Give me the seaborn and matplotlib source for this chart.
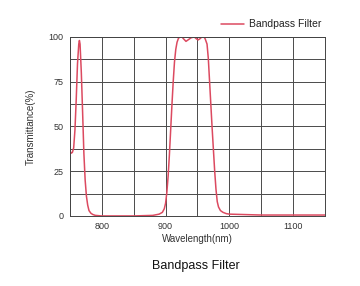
import matplotlib
matplotlib.use("Agg")
import matplotlib.pyplot as plt
import seaborn as sns
import pandas as pd
import numpy as np

wavelength = [750, 752, 754, 756, 758, 760, 762, 764, 765, 766, 768, 770, 772, 774, 776, 778,
              780, 783, 786, 790, 800, 850, 880, 890, 895, 898, 900, 902, 904, 906, 908, 910,
              912, 914, 916, 918, 920, 922, 925, 928, 932, 936, 940, 945, 948, 951, 954, 957,
              960, 962, 965, 967, 969, 971, 973, 975, 977, 979, 981, 983, 986, 990, 995, 1000,
              1050, 1100, 1150]
transmittance = [36.5, 35, 35.5, 38, 48, 65, 85, 96, 98, 96, 80, 58, 35, 20, 11, 6,
                 3, 1.5, 0.8, 0.3, 0, 0, 0.3, 1, 2, 4, 7, 13, 22, 34, 48, 62,
                 75, 86, 93, 97, 99, 100, 100.3, 99, 97.5, 98.5, 99.5, 100, 99, 98.3, 99, 100,
                 100, 99, 96, 88, 75, 62, 49, 37, 25, 15, 8, 5, 3, 2, 1.3, 1,
                 0.5, 0.5, 0.5]
series_name = "Bandpass Filter"
x_ticks = [800, 900, 1000, 1100]
y_ticks = [0, 25, 50, 75, 100]

sns.set_style("white")
plt.rcParams['font.family'] = ['Liberation Sans', 'DejaVu Sans']

df = pd.DataFrame({"Wavelength": wavelength, "T": transmittance, "series": series_name})

fig = plt.figure(figsize=(3.6, 2.86), dpi=100)
ax = fig.add_axes([0.194, 0.245, 0.709, 0.626])
sns.lineplot(data=df, x="Wavelength", y="T", hue="series", palette=["#dc4a60"],
             linewidth=1.1, ax=ax, sort=False)

ax.set_xlim(750, 1150)
ax.set_ylim(0, 100)
ax.set_xticks(x_ticks)
ax.set_yticks(y_ticks)
ax.set_xticks(np.arange(750, 1151, 50), minor=True)
ax.set_yticks(np.arange(0, 101, 12.5), minor=True)
ax.grid(True, which="both", color="#4a4a4a", linewidth=0.7)
ax.set_axisbelow(True)
for s in ax.spines.values():
    s.set_color("#444444")
    s.set_linewidth(0.7)
ax.tick_params(axis="both", which="major", labelsize=6.5, labelcolor="#333333",
               length=3, width=0.7, color="#444444", direction="out", pad=1.5)
ax.tick_params(axis="both", which="minor", length=0)
ax.set_xlabel("Wavelength(nm)", fontsize=7, color="#333333", labelpad=2)
ax.set_ylabel("Transmittance(%)", fontsize=7, color="#333333", labelpad=9)

leg = ax.legend(loc="lower right", bbox_to_anchor=(1.0, 1.02), frameon=False,
                fontsize=7.5, handlelength=2.2, handletextpad=0.4, borderaxespad=0)
for t in leg.get_texts():
    t.set_color("#222222")

fig.text(0.545, 0.07, "Bandpass Filter", ha="center", va="center", fontsize=9, color="#111111")

fig.savefig("out.png", dpi=100)
